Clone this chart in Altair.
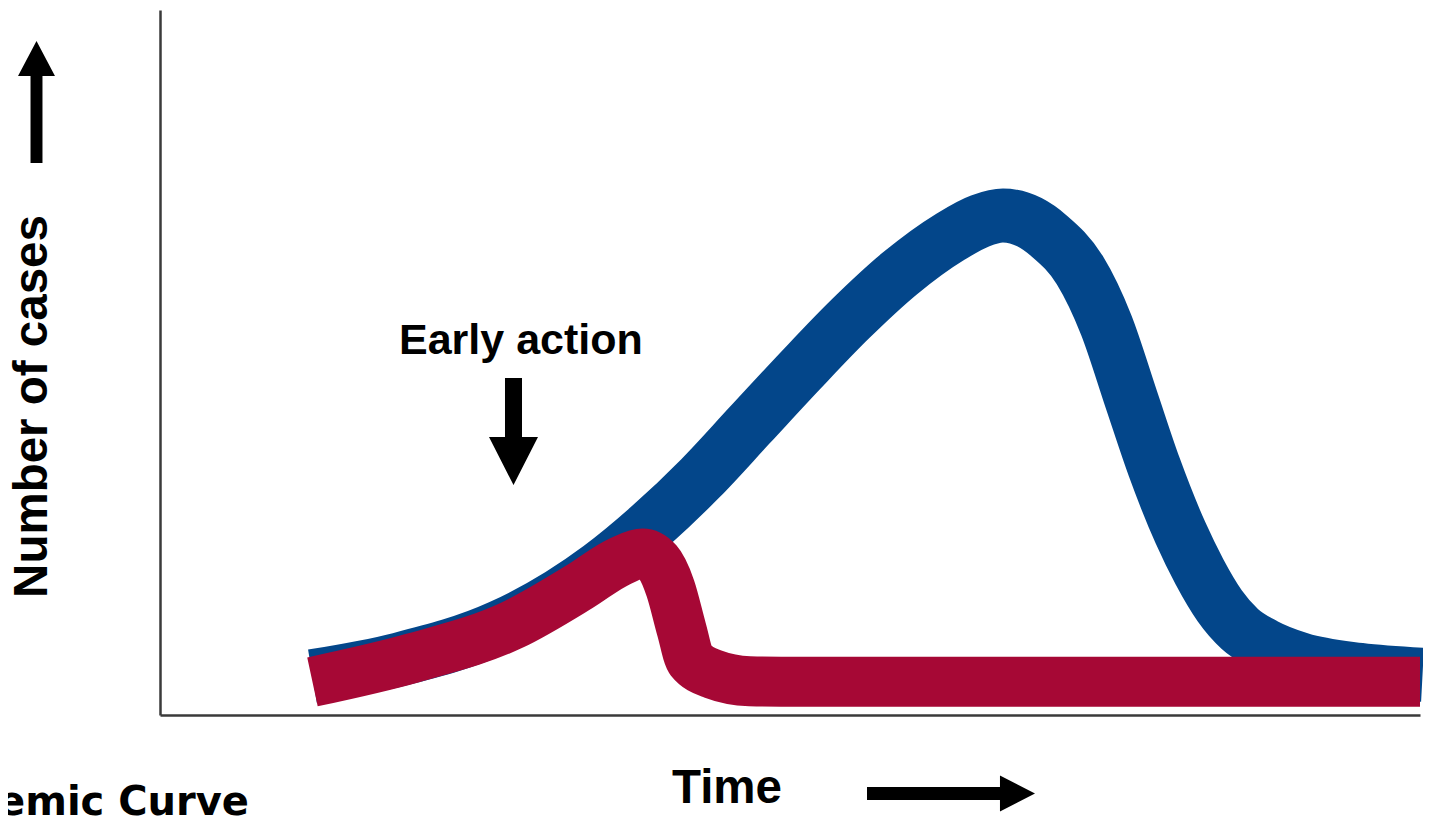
import altair as alt
import pandas as pd

# ---- data (time 0-100, number of cases 0-100) ----
no_action_time = [12.1, 19.0, 27.0, 31.7, 34.9, 38.9, 42.9, 46.8, 50.8, 54.8, 58.7, 62.7,
                  65.1, 66.9, 69.0, 70.6, 73.0, 75.1, 77.1, 78.9, 81.0, 82.5, 84.1, 85.7,
                  87.7, 90.5, 95.2, 100.2]
no_action_cases = [5.5, 7.9, 12.5, 17.0, 20.9, 26.8, 33.6, 41.1, 48.8, 56.2, 62.6, 67.8,
                   70.1, 70.85, 69.9, 67.9, 63.1, 55.3, 44.7, 35.2, 25.8, 20.3, 15.5, 12.2,
                   9.9, 7.9, 6.4, 5.7]

early_time = [12.1, 20.1, 28.0, 33.3, 36.5, 38.3, 39.5, 40.5, 41.4, 42.1, 43.9, 46.8, 50.8, 74.6, 100.0]
early_cases = [4.7, 8.1, 12.8, 18.2, 21.8, 22.9, 21.7, 18.0, 12.1, 7.8, 5.8, 4.8, 4.7, 4.7, 4.7]

y_label = ["Number of cases"]
x_label = ["Time"]
note_label = ["Early action"]
caption = ["Epidemic Curve"]

BLUE = "#03468A"
RED = "#A60835"
W, H = 1260, 705

blue_df = pd.DataFrame({"t": no_action_time, "c": no_action_cases})
red_df = pd.DataFrame({"t": early_time, "c": early_cases})

xs = alt.Scale(domain=[0, 100], nice=False, zero=False)
ys = alt.Scale(domain=[0, 100], nice=False, zero=False)
ax = alt.Axis(ticks=False, labels=False, grid=False, title=None,
              domainColor="#3a3a3a", domainWidth=2.5)

blue = alt.Chart(blue_df).mark_line(
    color=BLUE, strokeWidth=54, strokeCap="butt", strokeJoin="round",
    interpolate="monotone"
).encode(
    x=alt.X("t:Q", scale=xs, axis=ax),
    y=alt.Y("c:Q", scale=ys, axis=ax),
)

red = alt.Chart(red_df).mark_line(
    color=RED, strokeWidth=50, strokeCap="butt", strokeJoin="round",
    interpolate="monotone"
).encode(
    x=alt.X("t:Q", scale=xs, axis=ax),
    y=alt.Y("c:Q", scale=ys, axis=ax),
)

one = pd.DataFrame({"k": [0]})


def arrow(path, px, py, size):
    return alt.Chart(one).mark_point(
        shape=path, size=size, filled=True, color="black", opacity=1, strokeWidth=0
    ).encode(x=alt.value(px), y=alt.value(py))


up_path = "M0,-1 L0.303,-0.426 L0.098,-0.426 L0.098,1 L-0.098,1 L-0.098,-0.426 L-0.303,-0.426 Z"
down_path = "M-0.159,-1 L0.159,-1 L0.159,0.103 L0.458,0.103 L0,1 L-0.458,0.103 L-0.159,0.103 Z"
right_path = "M-1,-0.077 L0.583,-0.077 L0.583,-0.214 L1,0 L0.583,0.214 L0.583,0.077 L-1,0.077 Z"

up_arrow = arrow(up_path, -123.5, 92, 122 ** 2)
down_arrow = arrow(down_path, 353.5, 421.5, 107 ** 2)
right_arrow = arrow(right_path, 791, 783.5, 168 ** 2)


def label(values, px, py, size, align="left", angle=0, font="Liberation Sans"):
    return alt.Chart(pd.DataFrame({"txt": values})).mark_text(
        font=font, fontSize=size, fontWeight="bold", color="black",
        align=align, baseline="alphabetic", angle=angle
    ).encode(text="txt:N", x=alt.value(px), y=alt.value(py))


y_text = label(y_label, -113, 396.5, 47.5, align="center", angle=270)
x_text = label(x_label, 512, 793, 47.5)
note_text = label(note_label, 239, 344, 43)
cap_text = label(caption, 89, 805, 40, align="right", font="DejaVu Sans")

chart = alt.layer(
    blue, red, up_arrow, down_arrow, right_arrow, y_text, x_text, note_text, cap_text
).properties(
    width=W, height=H,
    background="white",
    autosize=alt.AutoSizeParams(type="none"),
    padding={"left": 152, "top": 2, "right": 3, "bottom": 102},
).configure_view(stroke=None, strokeWidth=0)

chart.save("out.html", embed_options={"renderer": "svg", "actions": False})
